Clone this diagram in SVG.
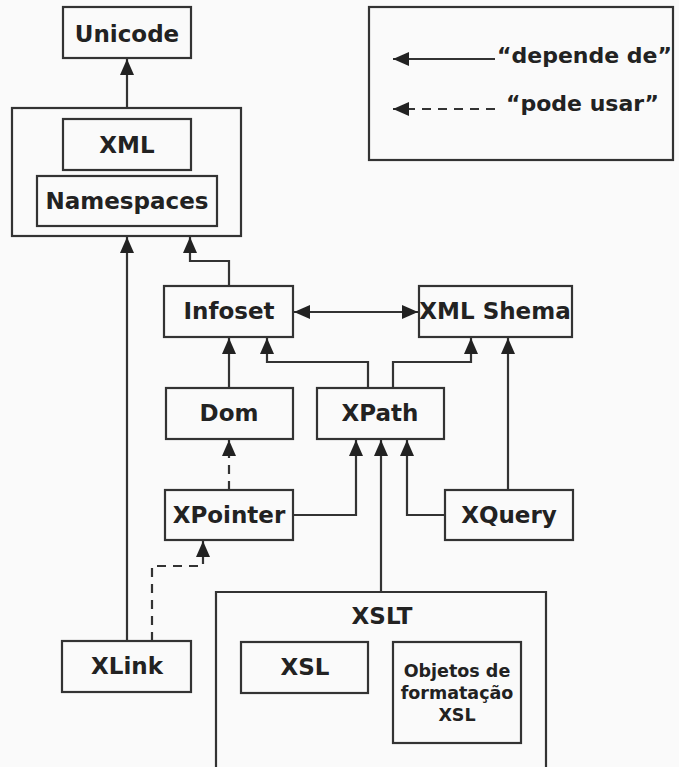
<svg xmlns="http://www.w3.org/2000/svg" width="679" height="767" viewBox="0 0 679 767">
<defs>
<marker id="ah" markerUnits="userSpaceOnUse" markerWidth="16" markerHeight="14" refX="16" refY="7" orient="auto-start-reverse">
<path d="M0,0 L16,7 L0,14 Z" fill="#222"/>
</marker>
<style>
.box{fill:none;stroke:#333;stroke-width:2.2}
.t{font-family:"DejaVu Sans",Verdana,sans-serif;font-weight:bold;font-size:23px;fill:#222;text-anchor:middle}
.l{font-size:22px;text-anchor:start}
.s{font-size:17.5px}
.c{fill:none;stroke:#333;stroke-width:2.2}
.d{stroke-dasharray:9 7}
</style>
</defs>
<rect width="679" height="767" fill="#fafafa"/>
<g id="legend">
<rect class="box" x="369" y="7" width="304" height="153"/>
<line class="c" x1="495" y1="59" x2="393" y2="59" marker-end="url(#ah)"/>
<line class="c d" x1="495" y1="109" x2="393" y2="109" marker-end="url(#ah)"/>
<text class="t l" x="497" y="63">“depende de”</text>
<text class="t l" x="506" y="111">“pode usar”</text>
</g>
<g id="unicode"><rect class="box" x="63" y="7" width="128" height="51"/><text class="t" x="127" y="42">Unicode</text></g>
<g id="xmlgroup"><rect class="box" x="12" y="108" width="229" height="128"/></g>
<g id="xml"><rect class="box" x="63" y="119" width="128" height="51"/><text class="t" x="127" y="153">XML</text></g>
<g id="namespaces"><rect class="box" x="37" y="176" width="180" height="50"/><text class="t" x="127" y="209">Namespaces</text></g>
<g id="infoset"><rect class="box" x="164" y="286" width="129" height="51"/><text class="t" x="229" y="319">Infoset</text></g>
<g id="xmlschema"><rect class="box" x="419" y="286" width="153" height="51"/><text class="t" x="495" y="319">XML Shema</text></g>
<g id="dom"><rect class="box" x="166" y="388" width="127" height="51"/><text class="t" x="229" y="421">Dom</text></g>
<g id="xpath"><rect class="box" x="317" y="388" width="127" height="51"/><text class="t" x="380" y="421">XPath</text></g>
<g id="xpointer"><rect class="box" x="165" y="490" width="128" height="50"/><text class="t" x="229" y="523">XPointer</text></g>
<g id="xquery"><rect class="box" x="445" y="490" width="128" height="50"/><text class="t" x="509" y="523">XQuery</text></g>
<g id="xlink"><rect class="box" x="62" y="641" width="129" height="51"/><text class="t" x="127" y="674">XLink</text></g>
<g id="xslt"><path class="box" d="M216,770 V592 H546 V770"/><text class="t" x="382" y="624">XSLT</text></g>
<g id="xsl"><rect class="box" x="241" y="642" width="127" height="51"/><text class="t" x="305" y="675">XSL</text></g>
<g id="fo"><rect class="box" x="393" y="642" width="128" height="101"/>
<text class="t s" x="457" y="677">Objetos de</text>
<text class="t s" x="457" y="699">formatação</text>
<text class="t s" x="457" y="721">XSL</text></g>
<g id="connectors">
<line class="c" x1="127" y1="108" x2="127" y2="59" marker-end="url(#ah)"/>
<line class="c" x1="127" y1="641" x2="127" y2="237" marker-end="url(#ah)"/>
<polyline class="c" points="229,286 229,261 190,261 190,237" marker-end="url(#ah)"/>
<line class="c" x1="294" y1="312" x2="418" y2="312" marker-start="url(#ah)" marker-end="url(#ah)"/>
<line class="c" x1="229" y1="388" x2="229" y2="338" marker-end="url(#ah)"/>
<polyline class="c" points="368,388 368,362 267,362 267,338" marker-end="url(#ah)"/>
<polyline class="c" points="393,388 393,362 471,362 471,338" marker-end="url(#ah)"/>
<line class="c" x1="508" y1="490" x2="508" y2="338" marker-end="url(#ah)"/>
<line class="c d" x1="229" y1="490" x2="229" y2="440" marker-end="url(#ah)"/>
<polyline class="c" points="293,515 356,515 356,440" marker-end="url(#ah)"/>
<line class="c" x1="381" y1="592" x2="381" y2="440" marker-end="url(#ah)"/>
<polyline class="c" points="445,515 407,515 407,440" marker-end="url(#ah)"/>
<polyline class="c d" points="152,641 152,566 203,566 203,541" marker-end="url(#ah)"/>
</g>
</svg>
